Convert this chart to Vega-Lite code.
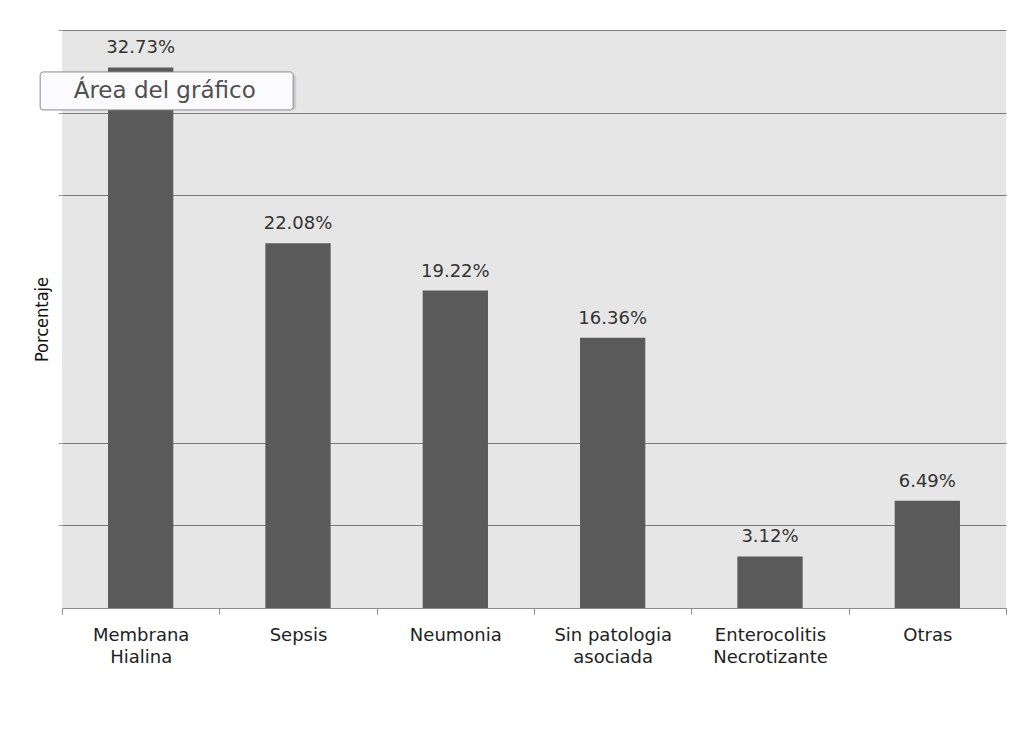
{
  "$schema": "https://vega.github.io/schema/vega-lite/v6.json",
  "width": 944,
  "height": 578,
  "autosize": {"type": "none"},
  "padding": {"left": 62, "top": 30, "right": 20, "bottom": 132},
  "background": "#ffffff",
  "config": {
    "view": {"fill": "#e6e6e6", "stroke": null},
    "font": "DejaVu Sans"
  },
  "datasets": {
    "causas": [
      {"causa": "Membrana Hialina", "porcentaje": 32.73},
      {"causa": "Sepsis", "porcentaje": 22.08},
      {"causa": "Neumonia", "porcentaje": 19.22},
      {"causa": "Sin patologia asociada", "porcentaje": 16.36},
      {"causa": "Enterocolitis Necrotizante", "porcentaje": 3.12},
      {"causa": "Otras", "porcentaje": 6.49}
    ],
    "aviso": [
      {"causa": "Membrana Hialina", "arriba": 32.46, "abajo": 30.16, "centro": 31.3, "texto": "Área del gráfico"}
    ]
  },
  "layer": [
    {
      "data": {"name": "causas"},
      "mark": {"type": "bar", "color": "#5a5a5a", "width": {"band": 0.415}},
      "encoding": {
        "x": {
          "field": "causa",
          "type": "nominal",
          "sort": null,
          "scale": {
            "domain": ["Membrana Hialina", "Sepsis", "Neumonia", "Sin patologia asociada", "Enterocolitis Necrotizante", "Otras"],
            "paddingInner": 0,
            "paddingOuter": 0
          },
          "axis": {
            "title": null,
            "labelAngle": 0,
            "labelExpr": "datum.label == 'Sin patologia asociada' ? ['Sin patologia', 'asociada'] : split(datum.label, ' ')",
            "labelFont": "DejaVu Sans",
            "labelFontSize": 18,
            "labelLineHeight": 22,
            "labelColor": "#222222",
            "labelPadding": 12,
            "tickBand": "extent",
            "tickSize": 6,
            "tickColor": "#8c8c8c",
            "domainColor": "#8c8c8c",
            "grid": false
          }
        },
        "y": {
          "field": "porcentaje",
          "type": "quantitative",
          "scale": {"domain": [0, 35], "nice": false},
          "axis": {
            "title": "Porcentaje",
            "titleFont": "DejaVu Sans Condensed",
            "titleFontSize": 18,
            "titleFontWeight": "normal",
            "titleColor": "#111111",
            "titlePadding": 6,
            "labels": false,
            "ticks": true,
            "tickSize": 4,
            "tickColor": "#9a9a9a",
            "domain": false,
            "values": [5, 10, 25, 30, 35],
            "grid": true,
            "gridColor": "#7a7a7a",
            "gridOpacity": 1
          }
        }
      }
    },
    {
      "data": {"name": "causas"},
      "transform": [
        {"calculate": "format(datum.porcentaje, '.2f') + '%'", "as": "etiqueta"}
      ],
      "mark": {
        "type": "text",
        "baseline": "bottom",
        "dy": -10,
        "fontSize": 18,
        "font": "DejaVu Sans",
        "color": "#333333"
      },
      "encoding": {
        "x": {"field": "causa", "type": "nominal", "sort": null},
        "y": {"field": "porcentaje", "type": "quantitative"},
        "text": {"field": "etiqueta"}
      }
    },
    {
      "data": {"name": "aviso"},
      "mark": {
        "type": "bar",
        "width": 253,
        "xOffset": 29,
        "yOffset": 3,
        "fill": "#9a9a9a",
        "opacity": 0.35,
        "cornerRadius": 3
      },
      "encoding": {
        "x": {"field": "causa", "type": "nominal", "sort": null},
        "y": {"field": "arriba", "type": "quantitative"},
        "y2": {"field": "abajo"}
      }
    },
    {
      "data": {"name": "aviso"},
      "mark": {
        "type": "bar",
        "width": 253,
        "xOffset": 26,
        "fill": "#fbfbfd",
        "stroke": "#8a8a8a",
        "strokeWidth": 1,
        "cornerRadius": 3
      },
      "encoding": {
        "x": {"field": "causa", "type": "nominal", "sort": null},
        "y": {"field": "arriba", "type": "quantitative"},
        "y2": {"field": "abajo"}
      }
    },
    {
      "data": {"name": "aviso"},
      "mark": {
        "type": "text",
        "baseline": "middle",
        "align": "center",
        "dx": 24,
        "fontSize": 23,
        "font": "DejaVu Sans",
        "color": "#505050"
      },
      "encoding": {
        "x": {"field": "causa", "type": "nominal", "sort": null},
        "y": {"field": "centro", "type": "quantitative"},
        "text": {"field": "texto"}
      }
    }
  ]
}
